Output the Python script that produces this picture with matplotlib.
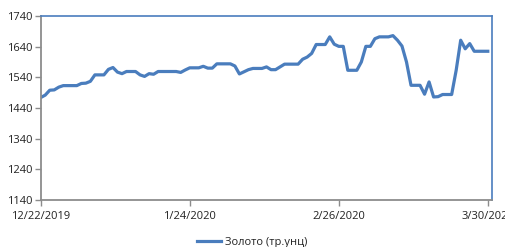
import matplotlib as mpl
mpl.use('Agg')
import matplotlib.pyplot as plt
import matplotlib.dates as mdates
import pandas as pd

# daily gold price, 12/22/2019 .. 3/30/2020
start = '2019-12-22'
gold = [1474, 1482, 1498, 1499, 1508, 1513, 1513, 1513, 1513, 1520,
        1521, 1527, 1548, 1548, 1548, 1566, 1572, 1557, 1552, 1559,
        1559, 1559, 1548, 1543, 1552, 1550, 1559, 1559, 1559, 1559,
        1559, 1556, 1564, 1571, 1571, 1571, 1576, 1570, 1570, 1584,
        1584, 1584, 1584, 1577, 1551, 1558, 1565, 1569, 1569, 1569,
        1574, 1565, 1565, 1574, 1583, 1583, 1583, 1583, 1599, 1606,
        1618, 1647, 1647, 1647, 1672, 1648, 1641, 1641, 1563, 1563,
        1563, 1590, 1641, 1641, 1666, 1672, 1672, 1672, 1676, 1661,
        1642, 1590, 1514, 1514, 1514, 1485, 1525, 1476, 1477, 1484,
        1484, 1484, 1563, 1661, 1633, 1650, 1625, 1625, 1625, 1625]
dates = pd.date_range(start, periods=len(gold), freq='D')

xticks = pd.to_datetime(['2019-12-22', '2020-01-24', '2020-02-26', '2020-03-30'])
yticks = [1140, 1240, 1340, 1440, 1540, 1640, 1740]
label = 'Золото (тр.унц)'

plt.rcParams['font.family'] = ['Open Sans', 'DejaVu Sans']

fig = plt.figure(figsize=(5.06, 2.47), dpi=100)
ax = fig.add_axes([40.7 / 506, 47 / 247, (492.3 - 40.7) / 506, (200 - 16) / 247])

ax.plot(dates, gold, color='#4a7dbd', lw=2.3, label=label, solid_joinstyle='round')

ax.set_xlim(pd.Timestamp('2019-12-22'), pd.Timestamp('2020-03-31'))
ax.set_ylim(1140, 1740)
ax.set_yticks(yticks)
ax.set_xticks(xticks)
ax.xaxis.set_major_formatter(mdates.DateFormatter('%-m/%-d/%Y'))

grey = '#8c8c8c'
blue = '#4a7dbd'
ax.spines['left'].set_color(grey)
ax.spines['bottom'].set_color(grey)
ax.spines['left'].set_linewidth(1.3)
ax.spines['bottom'].set_linewidth(1.3)
ax.spines['top'].set_color(blue)
ax.spines['right'].set_color(blue)
ax.spines['top'].set_linewidth(1.2)
ax.spines['right'].set_linewidth(1.2)
ax.tick_params(axis='both', direction='out', length=4, width=1, color=grey,
               labelsize=8, labelcolor='#222222', pad=2)
ax.tick_params(axis='x', pad=4)

fig.legend(loc='center', bbox_to_anchor=(252 / 506, 1 - 242 / 247), frameon=False,
           fontsize=8, handlelength=2.2, handletextpad=0.3, labelcolor='#222222')

fig.savefig('out.png', dpi=100)
